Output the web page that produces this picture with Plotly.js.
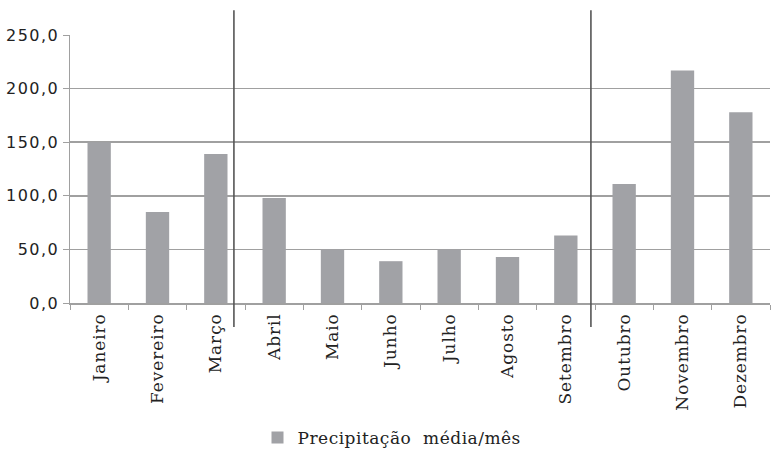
<!DOCTYPE html>
<html>
<head>
<meta charset="utf-8">
<script src="https://cdn.plot.ly/plotly-3.0.1.min.js"></script>
<style>
body{margin:0;padding:0;background:#fff;}
#chart{width:775px;height:450px;}
.ytick text{letter-spacing:1.5px;}
.xtick text{letter-spacing:0.9px;}
.legendtext{letter-spacing:0.5px;}
</style>
</head>
<body>
<div id="chart"></div>
<script>
var months = ["Janeiro","Fevereiro","Março","Abril","Maio","Junho","Julho","Agosto","Setembro","Outubro","Novembro","Dezembro"];
var precip = [150, 85, 139, 98, 50, 39, 50, 43, 63, 111, 217, 178];
var seriesName = "Precipitação  média/mês";
var yTicks = [0, 50, 100, 150, 200, 250];
var dividers = [2.31, 8.43];

var trace = {
  type: "bar",
  x: months,
  y: precip,
  name: seriesName,
  width: 0.4,
  marker: {color: "#a1a2a6"},
  showlegend: true
};

var shapes = dividers.map(function(d){
  return {type:"line", xref:"x", yref:"paper", x0:d, x1:d, y0:-0.09, y1:1.092,
          line:{color:"#555555", width:1.6}};
});

var layout = {
  width: 775, height: 450,
  margin: {l:70, r:5, t:35, b:147},
  paper_bgcolor: "#fff", plot_bgcolor: "#fff",
  separators: ",.",
  showlegend: true,
  xaxis: {
    type: "category",
    automargin: false,
    tickangle: -90,
    tickfont: {family: "DejaVu Serif", size: 17, color: "#222"},
    ticklabelstandoff: 2,
    showgrid: false,
    showline: true, linecolor: "#a0a0a0", linewidth: 1.5,
    ticks: "outside", ticklen: 5, tickcolor: "#a0a0a0", tickson: "boundaries",
    range: [-0.5, 11.5]
  },
  yaxis: {
    automargin: false,
    range: [0, 250],
    tickvals: yTicks,
    tickformat: ".1f",
    tickfont: {family: "DejaVu Sans", size: 16, color: "#222"},
    showgrid: true, gridcolor: "#a0a0a0", gridwidth: 1.5,
    showline: true, linecolor: "#a0a0a0", linewidth: 1.5,
    ticks: "outside", ticklen: 6, tickcolor: "#a0a0a0",
    zeroline: false
  },
  legend: {
    orientation: "h", x: 0.46, xanchor: "center", yref: "container", y: 0.027, yanchor: "middle",
    font: {family: "DejaVu Serif", size: 17, color: "#222"},
    itemwidth: 30
  },
  shapes: shapes
};

Plotly.newPlot("chart", [trace], layout, {displayModeBar: false, staticPlot: true});
</script>
</body>
</html>
